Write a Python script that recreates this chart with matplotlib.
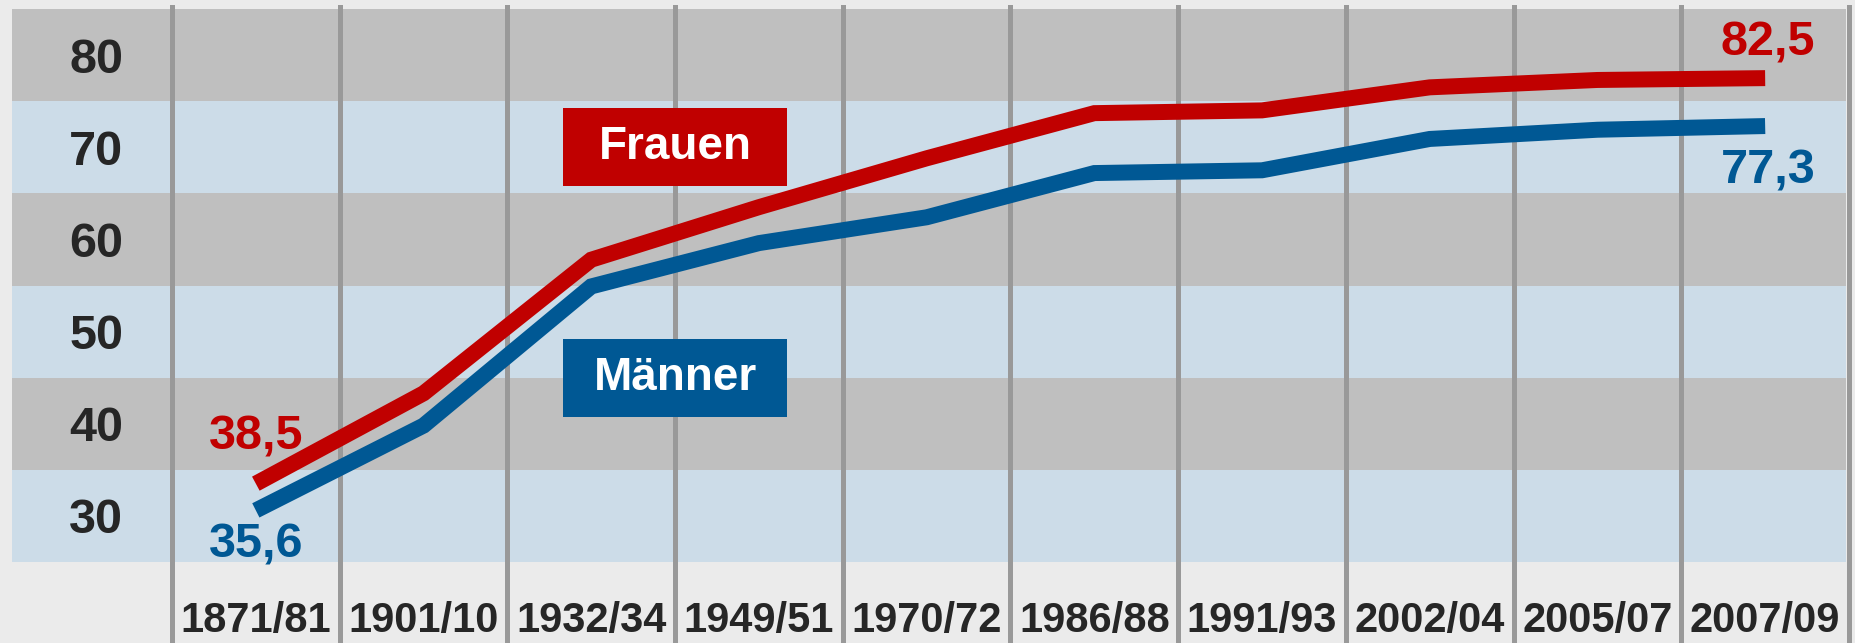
import matplotlib.pyplot as plt
from matplotlib.patches import Rectangle
from matplotlib.transforms import blended_transform_factory

plt.rcParams['font.family'] = ['Liberation Sans', 'DejaVu Sans']
plt.rcParams['font.weight'] = 'bold'

# Lebenserwartung bei Geburt
perioden = ['1871/81', '1901/10', '1932/34', '1949/51', '1970/72',
            '1986/88', '1991/93', '2002/04', '2005/07', '2007/09']
frauen = [38.5, 48.3, 62.8, 68.5, 73.8, 78.7, 79.0, 81.5, 82.3, 82.5]
maenner = [35.6, 44.8, 59.9, 64.6, 67.4, 72.2, 72.5, 75.9, 76.9, 77.3]
y_labels = ['30', '40', '50', '60', '70', '80']

rot = '#c00000'
blau = '#005894'
dunkel = '#262626'

fig = plt.figure(figsize=(18.55, 6.43), dpi=100)
fig.patch.set_facecolor('#ebebeb')
ax = fig.add_axes([12 / 1855, 81 / 643, 1837 / 1855, 553 / 643])
ax.set_xlim(-1.454, 9.5)
ax.set_ylim(30, 90)
ax.set_facecolor('#ebebeb')
for s in ax.spines.values():
    s.set_visible(False)

# horizontal bands
for k, lo in enumerate(range(30, 90, 10)):
    ax.axhspan(lo, lo + 10, xmax=(9.5 + 1.454 - 0.02) / (9.5 + 1.454),
               color='#ccdce8' if k % 2 == 0 else '#bfbfbf', zorder=0, lw=0)

# vertical separators
for i in range(len(perioden) + 1):
    ax.axvline(i - 0.5, ymin=-0.147, ymax=1.004, color='#999999', lw=3.6,
               zorder=1, clip_on=False)

x = range(len(perioden))
ax.plot(x, maenner, color=blau, lw=11.5, solid_capstyle='butt',
        solid_joinstyle='miter', zorder=3)
ax.plot(x, frauen, color=rot, lw=11.5, solid_capstyle='butt',
        solid_joinstyle='miter', zorder=3)

# y labels sit in the middle of each band
ax.set_yticks([v + 5 for v in range(30, 90, 10)])
ax.set_yticklabels(y_labels)
ax.tick_params(axis='y', length=0, pad=-80, labelsize=35, labelcolor=dunkel)
for lbl in ax.get_yticklabels():
    lbl.set_horizontalalignment('right')

ax.set_xticks(list(x))
ax.set_xticklabels(perioden)
ax.tick_params(axis='x', length=0, pad=28, labelsize=30, labelcolor=dunkel)

# value labels
def wert(v):
    return f'{v:.1f}'.replace('.', ',')

ax.annotate(wert(frauen[0]), (0, frauen[0]), xytext=(0, 34), textcoords='offset pixels',
            ha='center', va='baseline', color=rot, fontsize=35, zorder=4)
ax.annotate(wert(maenner[0]), (0, maenner[0]), xytext=(0, -47), textcoords='offset pixels',
            ha='center', va='baseline', color=blau, fontsize=35, zorder=4)
ax.annotate(wert(frauen[-1]), (9, frauen[-1]), xytext=(3, 23), textcoords='offset pixels',
            ha='center', va='baseline', color=rot, fontsize=35, zorder=4)
ax.annotate(wert(maenner[-1]), (9, maenner[-1]), xytext=(3, -57), textcoords='offset pixels',
            ha='center', va='baseline', color=blau, fontsize=35, zorder=4)

# legend boxes
for name, farbe, yc in [('Frauen', rot, 75), ('Männer', blau, 50)]:
    ax.add_patch(Rectangle((2.5 - 0.67, yc - 4.23), 1.34, 8.46, color=farbe, zorder=5, lw=0))
    ax.text(2.5, yc, name, color='white', fontsize=33, ha='center', va='center', zorder=6)

fig.savefig('out.png', dpi=100, facecolor=fig.get_facecolor())
